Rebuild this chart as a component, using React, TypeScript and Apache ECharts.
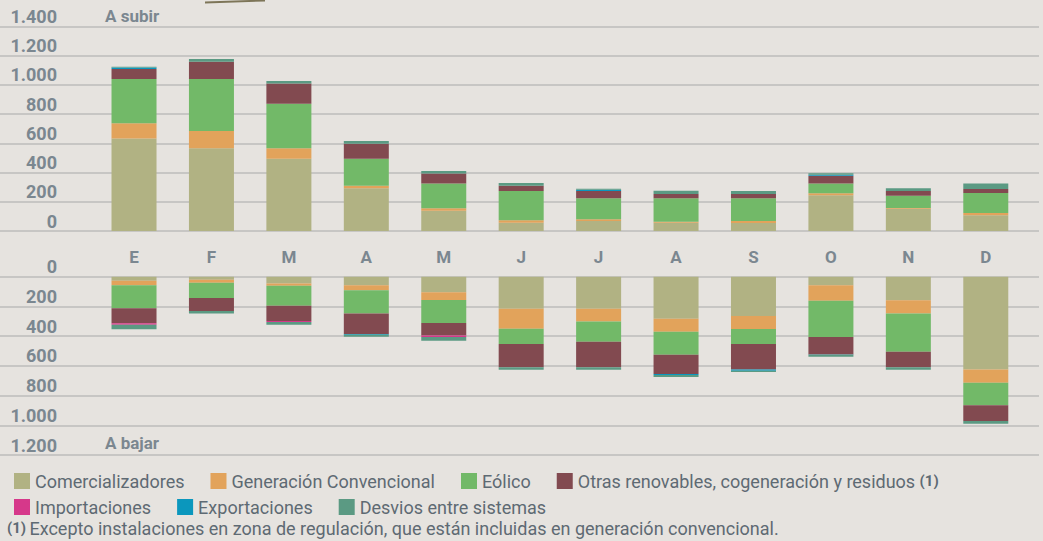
import React, { useEffect, useRef } from "react";
import * as echarts from "echarts";

const months = ["E", "F", "M", "A", "M", "J", "J", "A", "S", "O", "N", "D"];
const yTicksUp = [0, 200, 400, 600, 800, 1000, 1200, 1400];
const yTicksDown = [0, 200, 400, 600, 800, 1000, 1200];

const seriesNames = [
  "Comercializadores",
  "Generación Convencional",
  "Eólico",
  "Otras renovables, cogeneración y residuos (1)",
  "Importaciones",
  "Exportaciones",
  "Desvios entre sistemas",
];
const seriesColors = ["#b1b283", "#e2a35b", "#72b968", "#824a50", "#d6388a", "#0b97bd", "#5b9a83"];

// A subir (upward)
const comUp = [634, 566, 495, 292, 139, 57, 68, 57, 55, 244, 153, 107];
const genUp = [103, 119, 71, 18, 16, 16, 12, 7, 13, 14, 4, 16];
const eolUp = [304, 356, 306, 185, 171, 201, 144, 160, 156, 68, 85, 137];
const otrUp = [68, 118, 137, 103, 67, 36, 50, 29, 29, 53, 32, 28];
const impUp = [0, 0, 0, 0, 0, 0, 0, 0, 0, 0, 0, 0];
const expUp = [10, 0, 0, 0, 0, 0, 9, 0, 0, 6, 0, 0];
const desUp = [6, 19, 18, 18, 18, 19, 7, 23, 21, 10, 18, 38];

// A bajar (downward)
const comDn = [27, 20, 45, 58, 105, 215, 215, 283, 265, 58, 159, 624];
const genDn = [31, 20, 16, 34, 52, 135, 86, 87, 87, 104, 88, 89];
const eolDn = [155, 104, 134, 155, 155, 103, 136, 155, 101, 244, 258, 153];
const otrDn = [101, 87, 103, 139, 83, 157, 173, 130, 171, 117, 105, 105];
const impDn = [9, 0, 7, 0, 11, 0, 0, 0, 0, 0, 0, 0];
const expDn = [0, 0, 0, 5, 0, 0, 0, 7, 9, 3, 0, 0];
const desDn = [31, 16, 18, 13, 25, 16, 16, 13, 9, 12, 16, 18];

const upData = [comUp, genUp, eolUp, otrUp, impUp, expUp, desUp];
const dnData = [comDn, genDn, eolDn, otrDn, impDn, expDn, desDn];

const fmt = (v: number) =>
  v >= 1000 ? `${Math.floor(v / 1000)}.${String(v % 1000).padStart(3, "0")}` : String(v);

const BG = "#e6e3df";
const TICK = "#7b8790";
const TXT = "#5e6a73";
const GRIDLINE = "#c7c6c4";

export default function App() {
  const ref = useRef<HTMLDivElement>(null);
  useEffect(() => {
    document.body.style.margin = "0";
    document.body.style.background = BG;
    if (!ref.current) return;
    const chart = echarts.init(ref.current, undefined, { renderer: "svg" });

    const topY = 26.5, topH = 204.5;
    const botY = 276.7, botH = 178.3;
    const barLeft = 95.3, barW = 929.2;

    const valueAxisLabel = {
      inside: true,
      margin: 57,
      align: "right",
      verticalAlign: "bottom",
      padding: [0, 0, 1, 0],
      color: TICK,
      fontFamily: "Roboto",
      fontWeight: "bold",
      fontSize: 18,
      formatter: (v: number) => fmt(v),
      showMinLabel: true,
      showMaxLabel: true,
    };

    const series: any[] = [];
    seriesNames.forEach((name, i) => {
      series.push({
        name,
        type: "bar",
        stack: "up",
        xAxisIndex: 2,
        yAxisIndex: 2,
        barWidth: 45,
        data: upData[i],
        itemStyle: { color: seriesColors[i] },
      });
      series.push({
        name,
        type: "bar",
        stack: "down",
        xAxisIndex: 3,
        yAxisIndex: 3,
        barWidth: 45,
        data: dnData[i],
        itemStyle: { color: seriesColors[i] },
      });
    });

    const legendCommon = {
      icon: "rect",
      itemWidth: 16,
      itemHeight: 16,
      itemGap: 26,
      left: 9,
      textStyle: {
        color: TXT,
        fontFamily: "Roboto",
        fontSize: 18,
        rich: {
          n: { color: TXT, fontFamily: "Roboto", fontSize: 18 },
          b: { color: TXT, fontFamily: "Roboto", fontSize: 15, fontWeight: "bold" },
        },
      },
      formatter: (name: string) =>
        name.endsWith("(1)") ? `{n|${name.slice(0, -4)} }{b|(1)}` : `{n|${name}}`,
    };

    chart.setOption({
      animation: false,
      backgroundColor: BG,
      legend: [
        { ...legendCommon, top: 467, data: seriesNames.slice(0, 4) },
        { ...legendCommon, top: 493, data: seriesNames.slice(4) },
      ],
      grid: [
        { left: 0, top: topY, width: 1039, height: topH },
        { left: 0, top: botY, width: 1039, height: botH },
        { left: barLeft, top: topY, width: barW, height: topH },
        { left: barLeft, top: botY, width: barW, height: botH },
      ],
      xAxis: [
        { gridIndex: 0, type: "value", show: false, min: 0, max: 1 },
        { gridIndex: 1, type: "value", show: false, min: 0, max: 1 },
        {
          gridIndex: 2,
          type: "category",
          data: months,
          axisLine: { show: false },
          axisTick: { show: false },
          axisLabel: {
            margin: 17,
            color: TICK,
            fontFamily: "Roboto",
            fontWeight: "bold",
            fontSize: 17,
            interval: 0,
          },
        },
        {
          gridIndex: 3,
          type: "category",
          data: months,
          axisLine: { show: false },
          axisTick: { show: false },
          axisLabel: { show: false },
        },
      ],
      yAxis: [
        {
          gridIndex: 0,
          type: "value",
          min: yTicksUp[0],
          max: yTicksUp[yTicksUp.length - 1],
          interval: 200,
          axisLine: { show: false },
          axisTick: { show: false },
          splitLine: { show: true, lineStyle: { color: GRIDLINE, width: 2 } },
          axisLabel: valueAxisLabel,
        },
        {
          gridIndex: 1,
          type: "value",
          inverse: true,
          min: yTicksDown[0],
          max: yTicksDown[yTicksDown.length - 1],
          interval: 200,
          axisLine: { show: false },
          axisTick: { show: false },
          splitLine: { show: true, lineStyle: { color: GRIDLINE, width: 2 } },
          axisLabel: valueAxisLabel,
        },
        { gridIndex: 2, type: "value", min: 0, max: 1400, show: false, splitLine: { show: false } },
        { gridIndex: 3, type: "value", min: 0, max: 1200, inverse: true, show: false, splitLine: { show: false } },
      ],
      graphic: [
        {
          type: "line",
          shape: { x1: 205, y1: 2.5, x2: 265, y2: 0.5 },
          style: { stroke: "#7d7558", lineWidth: 2 },
        },
        {
          type: "text",
          left: 105,
          top: 7,
          style: { text: "A subir", fill: TICK, font: "bold 17px Roboto" },
        },
        {
          type: "text",
          left: 105,
          top: 434,
          style: { text: "A bajar", fill: TICK, font: "bold 17px Roboto" },
        },
        {
          type: "text",
          left: 7,
          top: 519,
          style: {
            text: "{b|(1)} {n|Excepto instalaciones en zona de regulación, que están incluidas en generación convencional.}",
            rich: {
              b: { fill: TXT, fontFamily: "Roboto", fontSize: 15, fontWeight: "bold" },
              n: { fill: TXT, fontFamily: "Roboto", fontSize: 18 },
            },
          },
        },
      ],
      series,
    });
    return () => chart.dispose();
  }, []);
  return (
    <div
      ref={ref}
      style={{ position: "fixed", left: 0, top: 0, width: 1043, height: 541, background: BG }}
    />
  );
}
